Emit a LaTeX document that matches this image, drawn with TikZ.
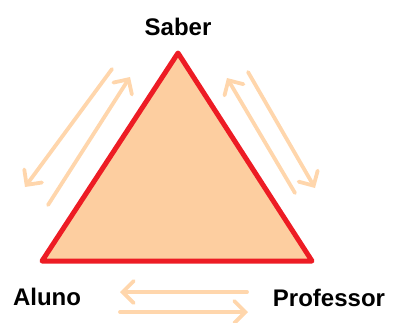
\documentclass[tikz,border=0pt]{standalone}
\usepackage{fontspec}
\setmainfont{Liberation Sans}
\usetikzlibrary{arrows.meta}
\definecolor{peach}{RGB}{253,206,160}
\definecolor{peacharrow}{RGB}{255,214,172}
\definecolor{paintred}{RGB}{237,28,36}
\tikzset{
  lbl/.style={font=\fontsize{24}{28}\selectfont\bfseries, anchor=base, inner sep=0pt},
  dbl/.style={draw=peacharrow, line width=3.8pt, line cap=round,
    -{Straight Barb[length=11pt,width=22pt,line cap=round]}}
}
\begin{document}
\begin{tikzpicture}[x=1pt,y=-1pt]
\useasboundingbox (0,0) rectangle (395,322);
\coordinate (S) at (178,53);
\coordinate (A) at (42,261);
\coordinate (P) at (312,261);
\draw[fill=peach, draw=paintred, line width=5pt, line join=round] (S) -- (A) -- (P) -- cycle;
\node[lbl] (saber) at (178,35) {Saber};
\node[lbl] (aluno) at (47,305) {Aluno};
\node[lbl] (prof) at (329,306) {Professor};
% left side arrows
\coordinate (l1s) at (112,69);  \coordinate (l1e) at (25,187);
\coordinate (l2s) at (48,205);  \coordinate (l2e) at (130,77);
\draw[dbl] (l1s) -- (l1e);
\draw[dbl] (l2s) -- (l2e);
% right side arrows
\coordinate (r1s) at (295,193); \coordinate (r1e) at (227,78);
\coordinate (r2s) at (248,72);  \coordinate (r2e) at (315,188);
\draw[dbl] (r1s) -- (r1e);
\draw[dbl] (r2s) -- (r2e);
% bottom arrows
\coordinate (b1s) at (247,292); \coordinate (b1e) at (120,292);
\coordinate (b2s) at (120,312); \coordinate (b2e) at (248,312);
\draw[dbl] (b1s) -- (b1e);
\draw[dbl] (b2s) -- (b2e);
\end{tikzpicture}
\end{document}
